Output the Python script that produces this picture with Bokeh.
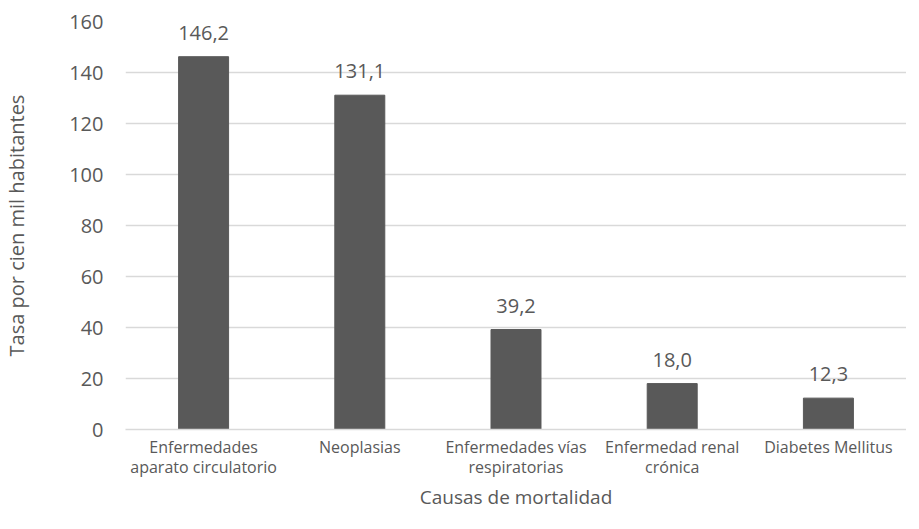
from bokeh.plotting import figure
from bokeh.models import FixedTicker, ColumnDataSource, Range1d
from bokeh.core.properties import value
from bokeh.embed import file_html
from bokeh.resources import INLINE

categories = ["Enfermedades\naparato circulatorio", "Neoplasias",
              "Enfermedades vías\nrespiratorias", "Enfermedad renal\ncrónica",
              "Diabetes Mellitus"]
rates = [146.2, 131.1, 39.2, 18.0, 12.3]
y_ticks = [0, 20, 40, 60, 80, 100, 120, 140, 160]
x_title = "Causas de mortalidad"
y_title = "Tasa por cien mil habitantes"

FONT = "Open Sans"
TXT = "#595959"

idx = list(range(len(categories)))
labels = [f"{v:.1f}".replace(".", ",") for v in rates]
src = ColumnDataSource(dict(x=idx, top=rates, lab=labels))

p = figure(frame_width=781, height=513, output_backend="svg", toolbar_location=None,
           x_range=Range1d(-0.5, len(categories) - 0.5), y_range=Range1d(0, 160),
           min_border_left=122, min_border_right=0, min_border_top=21,
           min_border_bottom=60)
p.outline_line_color = None

p.vbar(x="x", top="top", width=0.32, source=src, color="#595959")
p.text(x="x", y="top", text="lab", source=src, text_align="center",
       text_baseline="bottom", y_offset=-17, text_font=value(FONT),
       text_font_size="20px", text_color=TXT)

p.xaxis.ticker = FixedTicker(ticks=idx)
p.xaxis.major_label_overrides = {i: c for i, c in zip(idx, categories)}
p.xaxis.major_tick_line_color = None
p.xaxis.major_tick_out = 0
p.xaxis.major_tick_in = 0
p.xaxis.minor_tick_line_color = None
p.xaxis.minor_tick_out = 0
p.xaxis.axis_line_color = "#d9d9d9"
p.xaxis.axis_line_width = 1.5
p.xaxis.major_label_text_font = FONT
p.xaxis.major_label_text_font_size = "16px"
p.xaxis.major_label_text_color = TXT
p.xaxis.major_label_text_line_height = 0.95
p.xaxis.major_label_standoff = 6
p.xaxis.axis_label = x_title
p.xaxis.axis_label_text_font = FONT
p.xaxis.axis_label_text_font_size = "19px"
p.xaxis.axis_label_text_font_style = "normal"
p.xaxis.axis_label_text_color = TXT
p.xaxis.axis_label_text_line_height = 0.9
p.xaxis.axis_label_standoff = 3

p.yaxis.ticker = FixedTicker(ticks=y_ticks)
p.yaxis.axis_line_color = None
p.yaxis.major_tick_line_color = None
p.yaxis.major_tick_out = 0
p.yaxis.minor_tick_line_color = None
p.yaxis.minor_tick_out = 0
p.yaxis.major_label_text_font = FONT
p.yaxis.major_label_text_font_size = "20px"
p.yaxis.major_label_text_color = TXT
p.yaxis.major_label_standoff = 22
p.yaxis.axis_label = y_title
p.yaxis.axis_label_text_font = FONT
p.yaxis.axis_label_text_font_size = "20px"
p.yaxis.axis_label_text_font_style = "normal"
p.yaxis.axis_label_text_color = TXT
p.yaxis.axis_label_text_line_height = 1.0
p.yaxis.axis_label_standoff = 36

p.xgrid.grid_line_color = None
p.ygrid.grid_line_color = "#d9d9d9"
p.ygrid.grid_line_width = 1.5

open("out.html", "w").write(file_html(p, INLINE))
